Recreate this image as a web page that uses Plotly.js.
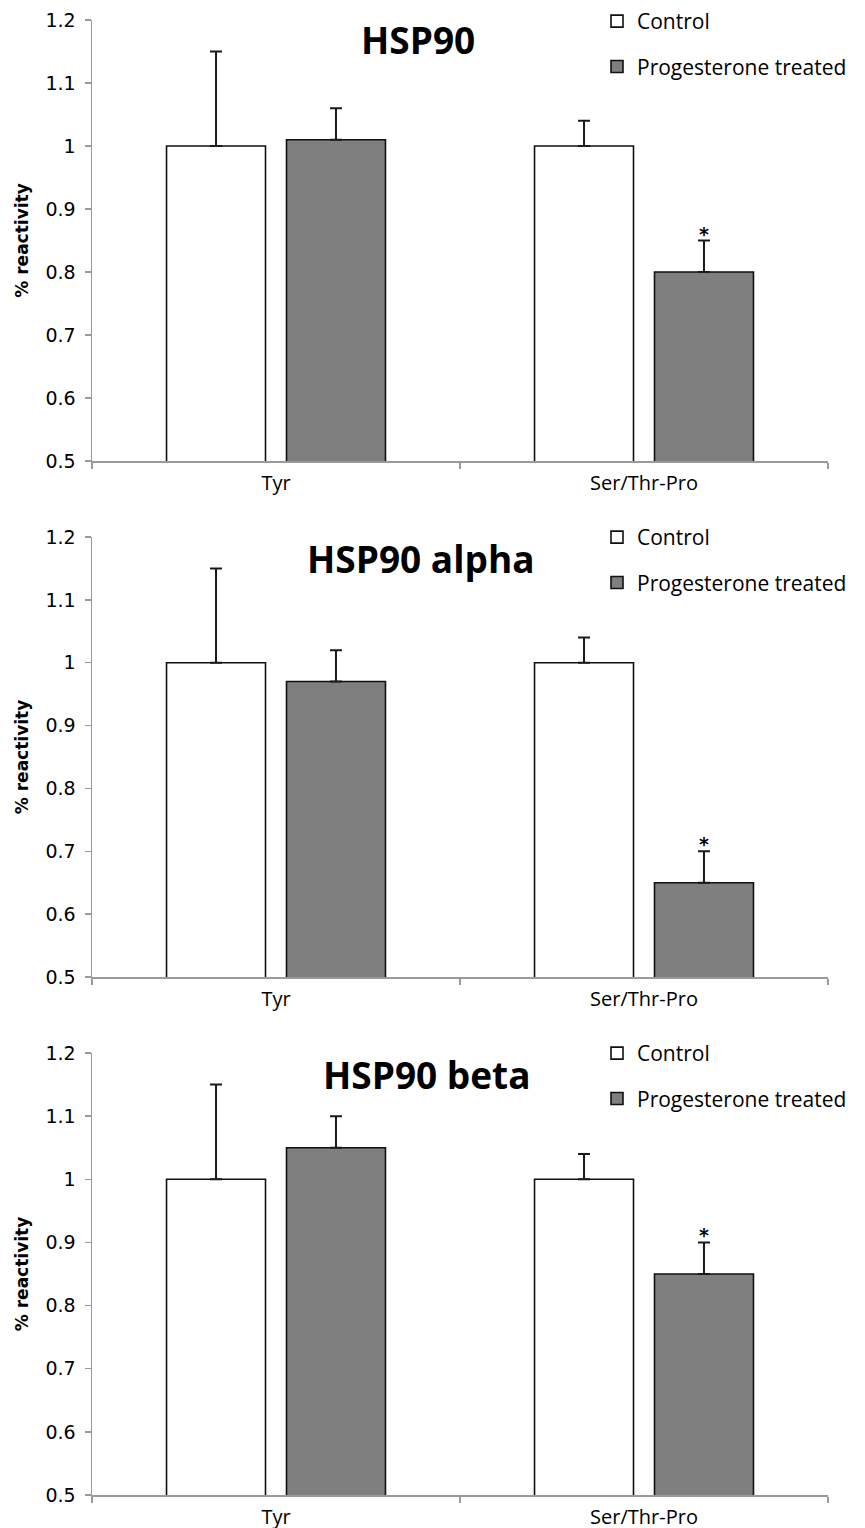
<!DOCTYPE html>
<html>
<head>
<meta charset="utf-8">
<script src="https://cdn.plot.ly/plotly-3.0.1.min.js"></script>
<style>
  html, body { margin: 0; padding: 0; background: #fff; }
  #chart { width: 865px; height: 1528px; }
</style>
</head>
<body>
<div id="chart"></div>
<script>
// ---- data ----
const categories = ['Tyr', 'Ser/Thr-Pro'];
const panelTitles = ['HSP90', 'HSP90 alpha', 'HSP90 beta'];
const seriesNames = ['Control', 'Progesterone treated'];
const controlValues = [[1.00, 1.00], [1.00, 1.00], [1.00, 1.00]];
const controlErrors = [[0.15, 0.04], [0.15, 0.04], [0.15, 0.04]];
const treatedValues = [[1.01, 0.80], [0.97, 0.65], [1.05, 0.85]];
const treatedErrors = [[0.05, 0.05], [0.05, 0.05], [0.05, 0.05]];
const treatedMarks = [['', '*'], ['', '*'], ['', '*']];
const yTickValues = [0.5, 0.6, 0.7, 0.8, 0.9, 1.0, 1.1, 1.2];
const yAxisTitle = '% reactivity';

// ---- layout constants ----
const W = 865, H = 1528;
const mL = 92, mR = 37, mT = 20, mB = 33;
const plotH = H - mT - mB;
const panelPx = [[20, 461], [537, 977], [1053, 1495]]; // top, bottom pixel of each plot area
const titleCenters = [[418, 39], [421, 558], [427, 1074]];
const legendTops = [1, 517, 1033];
const BARGAP = 0.348, BARGROUPGAP = 0.175;
const treatedOffset = (1 - BARGAP) / 4;
const pyToPaper = py => (H - mB - py) / plotH;
const pxToPaper = px => (px - mL) / (W - mL - mR);

const fills = ['#ffffff', '#7f7f7f'];
const axisGray = '#9a9a9a';

const traces = [];
const layout = {
  width: W, height: H,
  margin: {l: mL, r: mR, t: mT, b: mB, autoexpand: false},
  paper_bgcolor: '#fff', plot_bgcolor: '#fff',
  barmode: 'group', bargap: BARGAP, bargroupgap: BARGROUPGAP,
  showlegend: true,
  annotations: [],
  font: {family: 'DejaVu Sans', color: '#000'}
};

panelTitles.forEach((title, p) => {
  const sfx = p === 0 ? '' : String(p + 1);
  const legendId = 'legend' + sfx;
  const series = [
    {vals: controlValues[p], errs: controlErrors[p]},
    {vals: treatedValues[p], errs: treatedErrors[p]}
  ];
  series.forEach((s, k) => {
    traces.push({
      type: 'bar',
      name: seriesNames[k],
      x: categories,
      y: s.vals,
      xaxis: 'x' + sfx,
      yaxis: 'y' + sfx,
      legend: legendId,
      legendgroup: 'g' + p + '_' + k,
      marker: {color: fills[k], line: {color: '#111', width: 1.6}},
      error_y: {
        type: 'data', symmetric: false,
        array: s.errs, arrayminus: s.errs.map(() => 0),
        color: '#1a1a1a', thickness: 2, width: 6
      },
      hoverinfo: 'x+y'
    });
  });

  const top = panelPx[p][0], bot = panelPx[p][1];
  layout['xaxis' + sfx] = {
    domain: [0, 1], anchor: 'y' + sfx, type: 'category',
    range: [-0.5, categories.length - 0.5],
    showline: true, linecolor: axisGray, linewidth: 1.5,
    ticks: 'outside', tickson: 'boundaries', ticklen: 6, tickcolor: axisGray, tickwidth: 1.5,
    showgrid: false, zeroline: false,
    tickfont: {family: 'Open Sans', size: 20, color: '#000'},
    ticklabelstandoff: 3
  };
  layout['yaxis' + sfx] = {
    domain: [pyToPaper(bot), pyToPaper(top)], anchor: 'x' + sfx,
    range: [yTickValues[0], yTickValues[yTickValues.length - 1]],
    tickvals: yTickValues,
    showline: true, linecolor: axisGray, linewidth: 1.5,
    ticks: 'outside', ticklen: 6, tickcolor: axisGray, tickwidth: 1.5,
    showgrid: false, zeroline: false,
    tickfont: {family: 'DejaVu Sans', size: 19, color: '#000'},
    ticklabelstandoff: 5,
    title: {text: '<b>' + yAxisTitle + '</b>', font: {family: 'DejaVu Sans', size: 17, color: '#000'}, standoff: 12}
  };
  layout[legendId] = {
    x: pxToPaper(597), xanchor: 'left',
    y: pyToPaper(legendTops[p]), yanchor: 'top',
    bgcolor: 'rgba(0,0,0,0)',
    font: {family: 'Open Sans', size: 21, color: '#000'},
    traceorder: 'grouped', tracegroupgap: 15,
    itemclick: false, itemdoubleclick: false
  };
  layout.annotations.push({
    text: '<b>' + title + '</b>',
    xref: 'paper', yref: 'paper',
    x: pxToPaper(titleCenters[p][0]), y: pyToPaper(titleCenters[p][1]),
    xanchor: 'center', yanchor: 'middle', showarrow: false,
    font: {family: 'Open Sans', size: 37, color: '#000'}
  });
  treatedMarks[p].forEach((m, i) => {
    if (!m) return;
    layout.annotations.push({
      text: '<b>' + m + '</b>',
      xref: 'x' + sfx, yref: 'y' + sfx,
      x: i + treatedOffset, y: treatedValues[p][i] + treatedErrors[p][i],
      xanchor: 'center', yanchor: 'bottom', yshift: -6, showarrow: false,
      font: {family: 'DejaVu Sans', size: 19, color: '#000'}
    });
  });
});

Plotly.newPlot('chart', traces, layout, {displayModeBar: false, staticPlot: true});
</script>
</body>
</html>
